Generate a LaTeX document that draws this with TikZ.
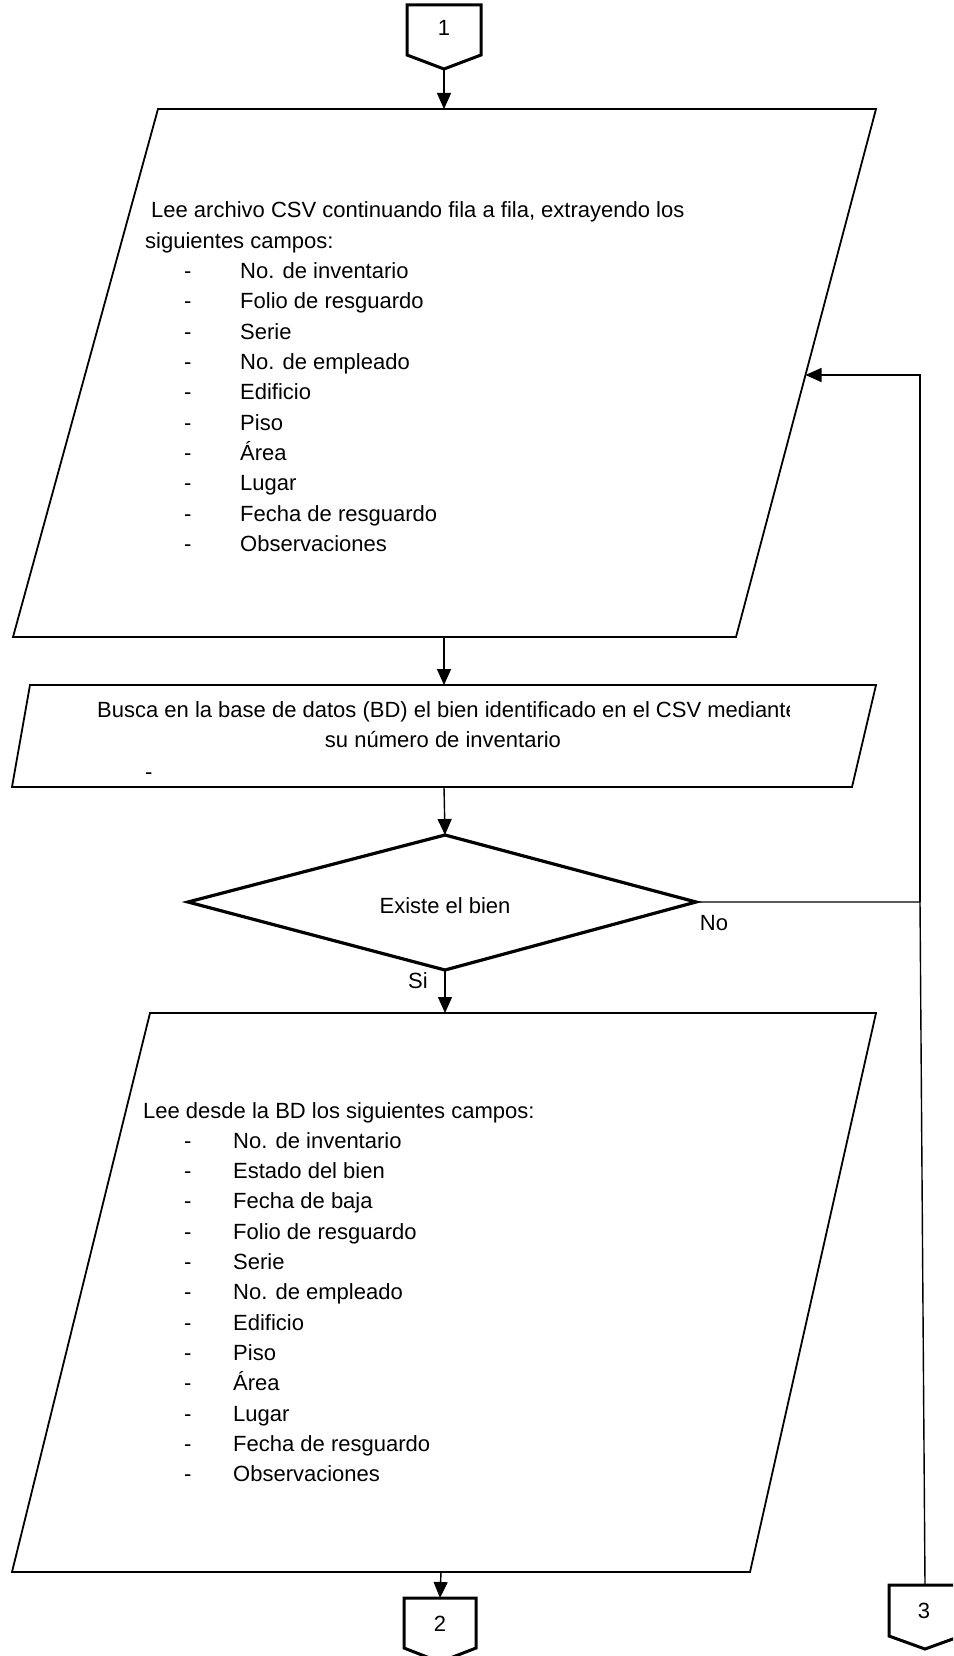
\documentclass[tikz,border=0pt]{standalone}
\usepackage{fontspec}
\setmainfont{Liberation Sans}
\usetikzlibrary{arrows.meta}
\begin{document}
\begin{tikzpicture}[x=1pt,y=-1pt,
  box/.style={draw=black, line width=1.8pt, line join=miter},
  decision/.style={draw=black, line width=3.2pt, line join=miter},
  offpage/.style={draw=black, line width=3pt, line join=miter},
  flow/.style={draw=black, line width=1.4pt, -{Triangle[length=16pt,width=14pt]}},
  link/.style={draw=black, line width=1.4pt},
  txt/.style={anchor=base west, inner sep=0pt, font=\fontsize{22}{26}\selectfont},
  ctxt/.style={anchor=base, inner sep=0pt, font=\fontsize{22}{26}\selectfont}]
\useasboundingbox (0,0) rectangle (953,1656);
\clip (0,0) rectangle (953,1656);

% ---- off-page connector 1
\draw[offpage] (407,5) -- (481,5) -- (481,55) -- (444,69) -- (407,55) -- cycle;
\node[ctxt] (n1) at (444,36) {1};
\coordinate (c1) at (444,69);

% ---- read CSV fields
\draw[box] (158,109) -- (876,109) -- (736,637) -- (13,637) -- cycle;
\coordinate (p1t) at (444,109);
\coordinate (p1b) at (444,637);
\coordinate (p1r) at (805.5,375);
\node[txt] (p1a) at (151,218) {Lee archivo CSV continuando fila a fila, extrayendo los};
\node[txt] (p1c) at (145,248.3) {siguientes campos:};
\foreach \t [count=\i] in {No. de inventario, Folio de resguardo, Serie,
  No. de empleado, Edificio, Piso, Área, Lugar, Fecha de resguardo, Observaciones}
{
  \node[txt] (p1d\i) at (184,248.3+30.3*\i) {-};
  \node[txt] (p1i\i) at (240,248.3+30.3*\i) {\t};
}

% ---- search in the database
\draw[box] (30,685) -- (876,685) -- (852,787) -- (12,787) -- cycle;
\coordinate (p2t) at (444,685);
\coordinate (p2b) at (444,787);
\begin{scope}
  \clip (90,690) rectangle (789,730);
  \node[txt] (p2a) at (97,717) {Busca en la base de datos (BD) el bien identificado en el CSV mediante};
\end{scope}
\node[ctxt] (p2c) at (443,747) {su número de inventario};
\node[txt] (p2d) at (145,779) {-};

% ---- decision
\draw[decision] (445,835) -- (696,902) -- (445,970) -- (188,902) -- cycle;
\coordinate (dt) at (445,835);
\coordinate (dr) at (696,902);
\coordinate (db) at (445,970);
\node[ctxt] (dq) at (445,913) {Existe el bien};
\node[ctxt] (no) at (714,930) {No};
\node[ctxt] (si) at (418,988) {Si};

% ---- read fields from the database
\draw[box] (150,1013) -- (876,1013) -- (750,1572) -- (12,1572) -- cycle;
\coordinate (p3t) at (445,1013);
\coordinate (p3b) at (441,1572);
\node[txt] (p3a) at (143,1118) {Lee desde la BD los siguientes campos:};
\foreach \t [count=\i] in {No. de inventario, Estado del bien, Fecha de baja,
  Folio de resguardo, Serie, No. de empleado, Edificio, Piso, Área, Lugar,
  Fecha de resguardo, Observaciones}
{
  \node[txt] (p3d\i) at (184,1118+30.3*\i) {-};
  \node[txt] (p3i\i) at (233,1118+30.3*\i) {\t};
}

% ---- off-page connectors 2 and 3
\draw[offpage] (404,1598) -- (476,1598) -- (476,1648) -- (440,1662) -- (404,1648) -- cycle;
\node[ctxt] (n2) at (440,1631) {2};
\coordinate (c2) at (440,1598);
\draw[offpage] (889,1585) -- (961,1585) -- (961,1636) -- (925,1649) -- (889,1636) -- cycle;
\node[ctxt] (n3) at (924,1618) {3};
\coordinate (c3) at (925,1585);

% ---- connectors
\draw[flow] (c1) -- (p1t);
\draw[flow] (p1b) -- (p2t);
\draw[flow] (p2b) -- (dt);
\draw[flow] (db) -- (p3t);
\draw[flow] (p3b) -- (c2);
\coordinate (j) at (920,902);
\coordinate (jt) at (920,375);
\draw[link] (dr) -- (j) -- (c3);
\draw[flow] (j) -- (jt) -- (p1r);
\end{tikzpicture}
\end{document}
